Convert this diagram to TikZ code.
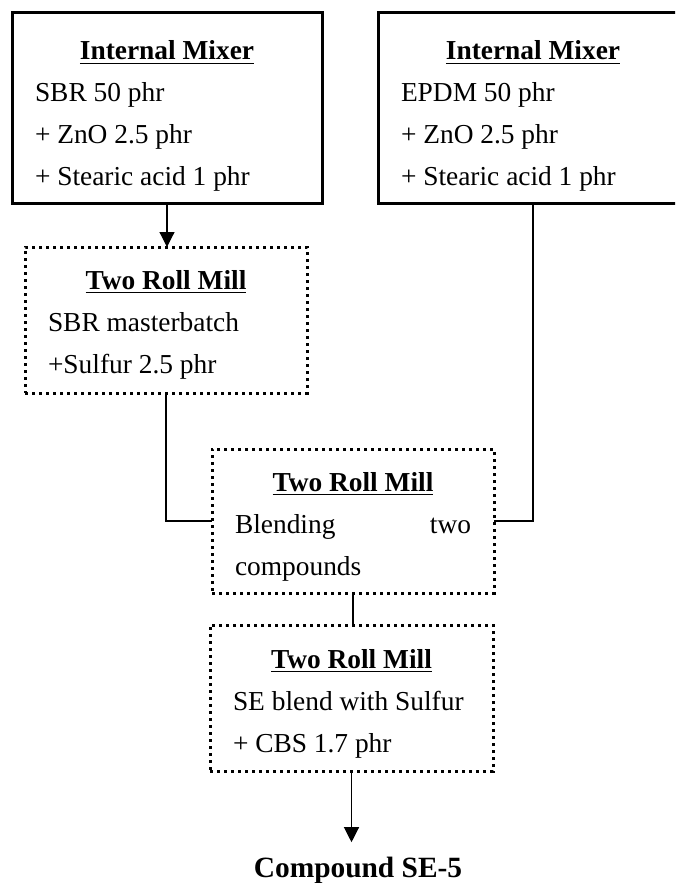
\documentclass[tikz,border=0pt]{standalone}
\usepackage{fontspec}
\setmainfont{Liberation Serif}
\usepackage{tikz}
\usetikzlibrary{arrows.meta}
\usetikzlibrary{positioning}

\newcommand{\procbox}[3]{\begin{minipage}[t]{#1}\centering\underline{\textbf{#2}}\par\raggedright #3\end{minipage}}

\tikzset{
	mixer/.style={draw, line width=1.5pt, inner xsep=11.5pt, inner ysep=0pt, outer sep=0pt, anchor=north west, text height=23.5pt, text depth=71.5pt},
	mill/.style={draw, line width=1.5pt, dash pattern=on 1.5pt off 2pt, inner xsep=11.5pt, inner ysep=0pt, outer sep=0pt, anchor=north west, text height=21pt, text depth=52pt},
	link/.style={line width=0.6pt},
	flow/.style={line width=0.6pt, -{Triangle[length=7.5pt,width=7.5pt]}}
}

\begin{document}
\begin{tikzpicture}[x=0.5pt, y=-0.5pt, font=\fontsize{13.7}{21}\selectfont]
		\path[use as bounding box, clip] (0,0) rectangle (675,883);
		
		\node[mixer] (mixA) at (12,13) {\procbox{132pt}{Internal Mixer}{SBR 50 phr\\+ ZnO 2.5 phr\\+ Stearic acid 1 phr}};
		\node[mixer] (mixB) at (378,13) {\procbox{132pt}{Internal Mixer}{EPDM 50 phr\\+ ZnO 2.5 phr\\+ Stearic acid 1 phr}};
		\node[mill] (millA) at (25,247) {\procbox{118pt}{Two Roll Mill}{SBR masterbatch\\+Sulfur 2.5 phr}};
		\node[mill, text height=21pt, text depth=51pt] (millB) at (212,449) {\procbox{118pt}{Two Roll Mill}{Blending\hfill two\\compounds}};
		\node[mill, text height=21.5pt, text depth=51.5pt] (millC) at (210,625) {\procbox{118.5pt}{Two Roll Mill}{SE blend with Sulfur\\+ CBS 1.7 phr}};
		\node[anchor=base, inner ysep=7pt, font=\fontsize{14.7}{17}\selectfont\bfseries] (final) at (358,877) {Compound SE-5};
		
		\draw[flow] (mixA.south) -- (mixA.south |- millA.north);
		\draw[link] (millA.south) |- (millB.west);
		\draw[link] (mixB.south) |- (millB.east);
		\draw[link] (millB.south) -- (millB.south |- millC.north);
		\draw[flow] (millC.south) -- (millC.south |- final.north);
	\end{tikzpicture}
\end{document}
